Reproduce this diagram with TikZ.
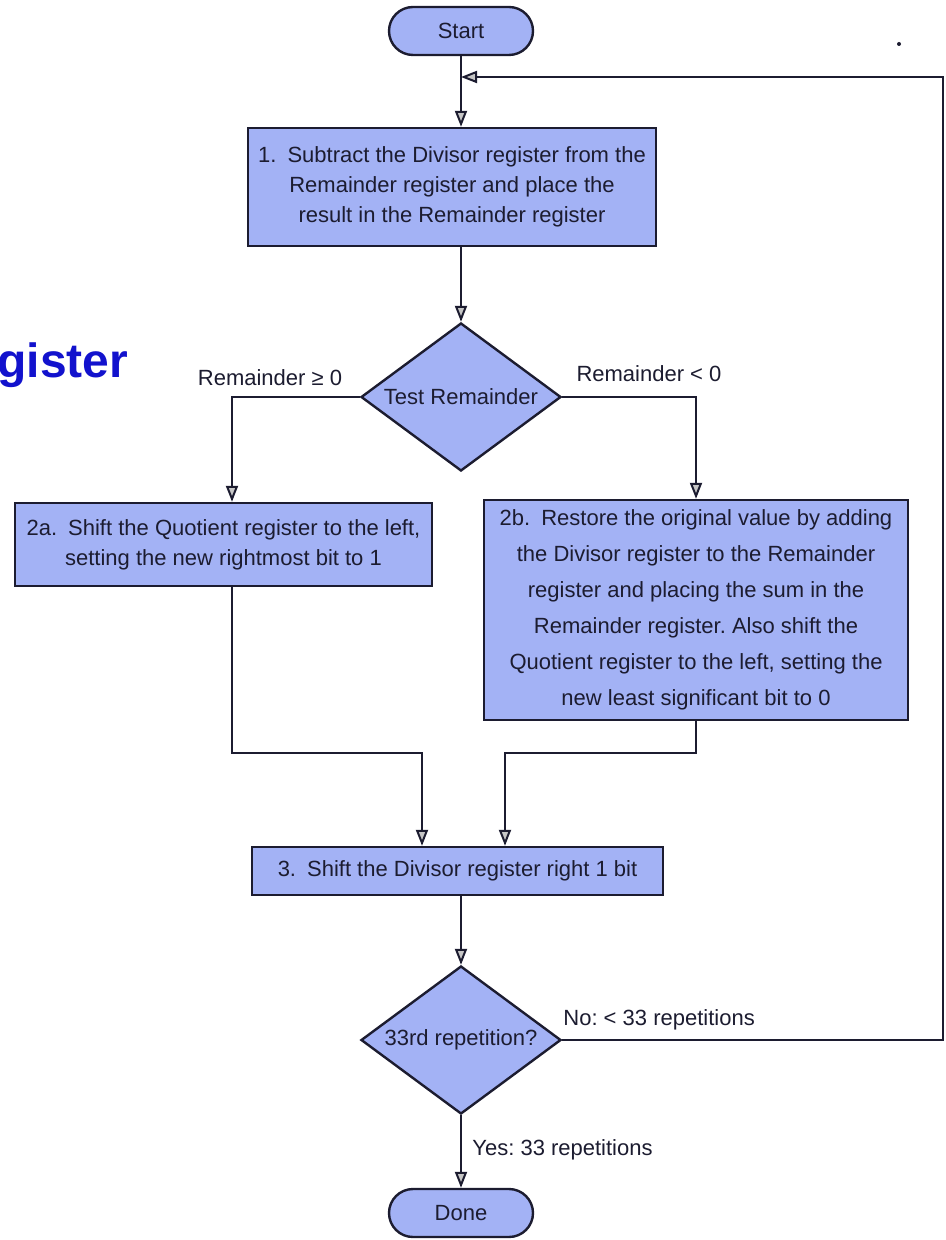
\documentclass[tikz,border=0pt]{standalone}
\usepackage{fontspec}
\setmainfont{Liberation Sans}
\usetikzlibrary{arrows.meta,shapes.geometric,shapes.misc,calc}
\definecolor{boxfill}{RGB}{163,178,245}
\definecolor{ink}{RGB}{28,28,48}
\definecolor{titleblue}{RGB}{18,18,205}
\frenchspacing
\begin{document}
\begin{tikzpicture}[x=0.5pt,y=-0.5pt,
  txt/.style={font=\fontsize{11}{15}\selectfont, text=ink},
  stepbox/.style={draw=ink, line width=1.2pt, fill=boxfill, rectangle, inner sep=0pt, align=center, txt},
  terminal/.style={draw=ink, line width=1.2pt, fill=boxfill, rounded rectangle, inner sep=0pt, minimum width=72pt, minimum height=24pt, txt},
  decision/.style={draw=ink, line width=1.2pt, fill=boxfill, diamond, aspect=1.35, inner sep=0pt, minimum width=100pt, minimum height=74pt, txt},
  flow/.style={draw=ink, line width=1pt},
  arr/.style={flow, -{Triangle[length=8pt,width=6pt,fill=gray!45]}},
  lbl/.style={txt, inner sep=0pt}]
\fill[white] (0,0) rectangle (946,1240);
\useasboundingbox (0,0) rectangle (946,1240);

% heading fragment at the left edge
\node[anchor=base west, inner sep=0pt, font=\fontsize{24}{28}\selectfont\bfseries, text=titleblue] (title) at (-3,378) {gister};
\fill[ink] (899,44) circle (2);

% flowchart nodes
\node[terminal] (start) at (461,31) {Start};
\node[stepbox, minimum width=204pt, minimum height=59pt] (box1) at (452,187)
  {1.\enspace Subtract the Divisor register from the\\Remainder register and place the\\result in the Remainder register};
\node[decision] (d1) at (461,397) {Test Remainder};
\node[stepbox, minimum width=208.5pt, minimum height=41.5pt] (box2a) at (223.5,544.5)
  {2a.\enspace Shift the Quotient register to the left,\\setting the new rightmost bit to 1};
\node[stepbox, minimum width=212pt, minimum height=110pt, font=\fontsize{11}{18}\selectfont] (box2b) at (696,610)
  {2b.\enspace Restore the original value by adding\\the Divisor register to the Remainder\\register and placing the sum in the\\Remainder register. Also shift the\\Quotient register to the left, setting the\\new least significant bit to 0};
\node[stepbox, minimum width=205.5pt, minimum height=24pt] (box3) at (457.5,871)
  {3.\enspace Shift the Divisor register right 1 bit};
\node[decision] (d2) at (461,1040) {33rd repetition?};
\node[terminal] (done) at (461,1213) {Done};

% branch labels
\node[lbl] (lge) at (270,378) {Remainder ≥ 0};
\node[lbl] (llt) at (649,374) {Remainder < 0};
\node[lbl, anchor=west] (lno) at (563,1020) {No: < 33 repetitions};
\node[lbl, anchor=west] (lyes) at (472,1150) {Yes: 33 repetitions};

% helper points
\coordinate (rtop) at (943,77);
\coordinate (join) at (461,77);
\coordinate (m2a) at ($(box2a.north)+(8.5,0)$);
\coordinate (in3a) at ($(box3.north)+(-35.5,0)$);
\coordinate (in3b) at ($(box3.north)+(47.5,0)$);
\coordinate (mergeY) at (0,753);

% connectors
\draw[arr] (start.south) -- (start.south |- box1.north);
\draw[arr] (d1.north |- box1.south) -- (d1.north);
\draw[arr] (d1.west) -| (m2a);
\draw[arr] (d1.east) -| (box2b.north);
\draw[arr] (m2a |- box2a.south) -- (m2a |- mergeY) -| (in3a);
\draw[arr] (box2b.south) -- (box2b.south |- mergeY) -| (in3b);
\draw[arr] (d2.north |- box3.south) -- (d2.north);
\draw[arr] (d2.south) -- (done.north);
\draw[arr] (d2.east) -| (rtop) -- (join);
\end{tikzpicture}
\end{document}
